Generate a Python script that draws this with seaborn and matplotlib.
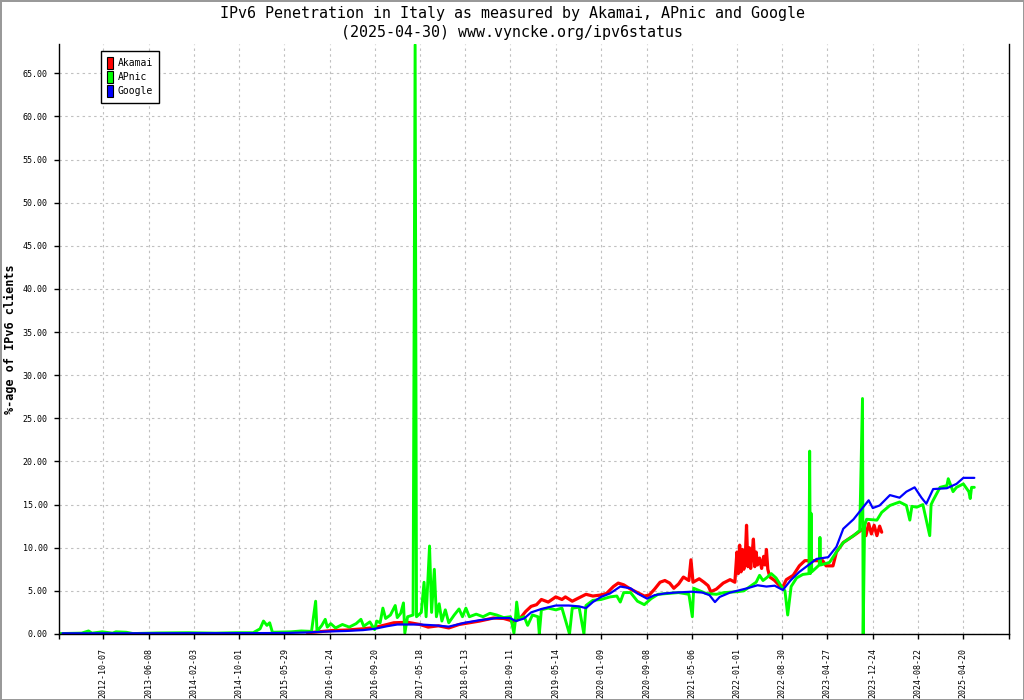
import matplotlib
matplotlib.use("Agg")
import matplotlib.pyplot as plt
import seaborn as sns
import pandas as pd
import numpy as np
from matplotlib.patches import Patch
from matplotlib.ticker import FormatStrFormatter

# ---------------- data (fractional years, % of clients) ----------------
tick_labels = ["2012-10-07", "2013-06-08", "2014-02-03", "2014-10-01", "2015-05-29",
               "2016-01-24", "2016-09-20", "2017-05-18", "2018-01-13", "2018-09-11",
               "2019-05-14", "2020-01-09", "2020-09-08", "2021-05-06", "2022-01-01",
               "2022-08-30", "2023-04-27", "2023-12-24", "2024-08-22", "2025-04-20"]

google_year = [2012.17, 2013.0, 2014.0, 2015.0, 2015.45, 2015.75, 2016.0, 2016.3, 2016.55, 2016.72,
               2016.9, 2017.05, 2017.38, 2017.6, 2017.8, 2018.03, 2018.25, 2018.5, 2018.69, 2018.78,
               2018.9, 2019.0, 2019.15, 2019.36, 2019.55, 2019.7, 2019.8, 2019.9, 2020.02, 2020.15,
               2020.3, 2020.45, 2020.55, 2020.69, 2020.8, 2020.95, 2021.1, 2021.34, 2021.5, 2021.6,
               2021.68, 2021.75, 2021.9, 2022.0, 2022.15, 2022.3, 2022.43, 2022.55, 2022.67, 2022.78,
               2022.91, 2023.16, 2023.33, 2023.45, 2023.55, 2023.70, 2023.84, 2023.92, 2023.98, 2024.08,
               2024.23, 2024.37, 2024.47, 2024.59, 2024.69, 2024.76, 2024.86, 2025.06, 2025.20, 2025.30,
               2025.46]
google_pct = [0.08, 0.08, 0.09, 0.10, 0.12, 0.18, 0.28, 0.35, 0.45, 0.60,
              0.90, 1.10, 1.10, 1.00, 0.85, 1.30, 1.60, 1.85, 1.85, 1.50,
              1.80, 2.50, 2.90, 3.30, 3.30, 3.20, 3.00, 3.70, 4.30, 4.70,
              5.50, 5.30, 4.70, 4.10, 4.50, 4.70, 4.80, 4.90, 4.80, 4.50,
              3.70, 4.30, 4.80, 5.00, 5.30, 5.65, 5.50, 5.60, 5.10, 6.20,
              7.20, 8.70, 8.90, 10.10, 12.20, 13.30, 14.70, 15.50, 14.60, 14.90,
              16.10, 15.80, 16.50, 17.00, 15.80, 15.10, 16.80, 16.90, 17.40, 18.10,
              18.10]

akamai_year = [2015.74, 2015.9, 2016.1, 2016.3, 2016.55, 2016.72, 2016.85, 2017.0, 2017.2, 2017.38,
               2017.5, 2017.65, 2017.8, 2017.95, 2018.1, 2018.25, 2018.45, 2018.6, 2018.69, 2018.75,
               2018.85, 2018.92, 2019.0, 2019.08, 2019.15, 2019.25, 2019.36, 2019.45, 2019.5, 2019.6,
               2019.7, 2019.8, 2019.9, 2020.0, 2020.1, 2020.2, 2020.27, 2020.35, 2020.45, 2020.55,
               2020.65, 2020.72, 2020.8, 2020.88, 2020.95, 2021.02, 2021.08, 2021.15, 2021.22, 2021.3,
               2021.33, 2021.36, 2021.45, 2021.52, 2021.58, 2021.62, 2021.7, 2021.8, 2021.9, 2021.97,
               2022.0, 2022.02, 2022.04, 2022.06, 2022.08, 2022.1, 2022.12, 2022.14, 2022.16, 2022.18,
               2022.2, 2022.22, 2022.24, 2022.26, 2022.28, 2022.3, 2022.33, 2022.36, 2022.39, 2022.41,
               2022.43, 2022.45, 2022.48, 2022.55, 2022.62, 2022.66, 2022.72, 2022.82, 2022.91, 2022.99,
               2023.25, 2023.3, 2023.4, 2023.45, 2023.55, 2023.7, 2023.84, 2023.88, 2023.92, 2023.96,
               2024.0, 2024.04, 2024.08, 2024.11]
akamai_pct = [0.15, 0.25, 0.40, 0.45, 0.60, 0.75, 1.00, 1.30, 1.35, 1.10,
              0.80, 0.95, 0.70, 1.10, 1.30, 1.50, 1.85, 1.80, 1.60, 1.40,
              1.90, 2.60, 3.20, 3.40, 4.00, 3.70, 4.30, 4.00, 4.30, 3.80,
              4.20, 4.60, 4.40, 4.50, 4.70, 5.50, 5.90, 5.70, 5.20, 4.80,
              4.40, 4.50, 5.20, 6.00, 6.20, 5.90, 5.30, 5.80, 6.60, 6.20,
              8.60, 6.00, 6.40, 6.00, 5.60, 4.90, 5.20, 5.90, 6.30, 6.00,
              9.50, 7.00, 10.30, 7.20, 9.80, 7.50, 8.50, 12.60, 7.80, 10.00,
              7.60, 9.20, 11.00, 7.80, 9.50, 8.00, 8.80, 7.60, 9.00, 8.00,
              9.80, 7.50, 6.60, 6.20, 5.60, 5.30, 6.30, 6.80, 7.90, 8.50,
              8.50, 7.90, 7.90, 9.50, 10.60, 11.40, 12.20, 11.40, 12.80, 11.60,
              12.60, 11.40, 12.50, 11.80]

apnic_year = [2012.14, 2012.45, 2012.55, 2012.6, 2012.75, 2012.9, 2012.95, 2013.1, 2013.2, 2013.55,
              2014.0, 2014.4, 2014.7, 2014.95, 2015.05, 2015.1, 2015.15, 2015.19, 2015.23, 2015.5,
              2015.65, 2015.8, 2015.86, 2015.88, 2015.95, 2016.0, 2016.03, 2016.08, 2016.15, 2016.25,
              2016.35, 2016.45, 2016.52, 2016.56, 2016.65, 2016.72, 2016.75, 2016.8, 2016.84, 2016.88,
              2016.95, 2017.02, 2017.05, 2017.1, 2017.14, 2017.16, 2017.2, 2017.28, 2017.31, 2017.33,
              2017.4, 2017.44, 2017.47, 2017.52, 2017.55, 2017.59, 2017.62, 2017.66, 2017.7, 2017.75,
              2017.8, 2017.88, 2017.95, 2018.0, 2018.05, 2018.1, 2018.2, 2018.3, 2018.4, 2018.5,
              2018.6, 2018.7, 2018.75, 2018.77, 2018.79, 2018.82, 2018.9, 2018.95, 2019.02, 2019.1,
              2019.12, 2019.15, 2019.25, 2019.36, 2019.45, 2019.56, 2019.6, 2019.7, 2019.77, 2019.8,
              2019.9, 2020.02, 2020.15, 2020.25, 2020.3, 2020.35, 2020.45, 2020.55, 2020.65, 2020.75,
              2020.85, 2021.0, 2021.15, 2021.3, 2021.35, 2021.37, 2021.46, 2021.55, 2021.7, 2021.81,
              2022.0, 2022.1, 2022.19, 2022.28, 2022.33, 2022.38, 2022.43, 2022.5, 2022.57, 2022.65,
              2022.7, 2022.74, 2022.79, 2022.87, 2022.96, 2023.05, 2023.06, 2023.07, 2023.08, 2023.09,
              2023.2, 2023.21, 2023.22, 2023.35, 2023.45, 2023.55, 2023.7, 2023.79, 2023.83, 2023.84,
              2023.86, 2023.89, 2024.04, 2024.11, 2024.23, 2024.37, 2024.47, 2024.52, 2024.55, 2024.62,
              2024.71, 2024.81, 2024.83, 2024.86, 2024.96, 2025.06, 2025.08, 2025.15, 2025.2, 2025.3,
              2025.38, 2025.4, 2025.42, 2025.46]
apnic_pct = [0.05, 0.10, 0.35, 0.10, 0.25, 0.10, 0.25, 0.20, 0.05, 0.12,
             0.15, 0.10, 0.15, 0.15, 0.60, 1.50, 1.00, 1.30, 0.20, 0.25,
             0.35, 0.30, 3.80, 0.30, 1.00, 1.70, 0.80, 1.20, 0.70, 1.10,
             0.80, 1.20, 1.70, 0.90, 1.40, 0.50, 1.50, 1.30, 3.00, 1.80,
             2.20, 3.30, 1.90, 2.40, 3.60, 0.10, 2.00, 2.20, 68.30, 2.00,
             2.50, 6.00, 2.00, 10.20, 2.50, 7.50, 2.00, 3.50, 1.50, 2.80,
             1.30, 2.20, 2.90, 2.00, 3.00, 2.00, 2.30, 2.00, 2.40, 2.20,
             1.90, 2.00, 0.10, 1.50, 3.70, 1.80, 2.00, 1.00, 2.20, 2.00,
             0.00, 2.80, 3.00, 2.80, 3.00, 0.00, 3.00, 3.10, 0.00, 3.30,
             3.90, 4.00, 4.30, 4.40, 3.70, 4.80, 4.80, 3.80, 3.40, 4.10,
             4.60, 4.70, 4.80, 4.60, 2.00, 5.30, 5.00, 4.70, 4.60, 4.80,
             4.90, 5.00, 5.50, 6.00, 6.80, 6.20, 6.50, 7.00, 6.50, 5.50,
             5.00, 2.20, 5.50, 6.50, 6.90, 7.00, 21.20, 7.00, 14.00, 7.20,
             8.00, 11.20, 8.00, 8.30, 9.50, 10.60, 11.40, 12.00, 27.30, 0.00,
             12.50, 13.30, 13.20, 14.10, 14.90, 15.30, 14.90, 13.20, 14.80, 14.70,
             15.00, 11.40, 15.00, 15.50, 17.00, 17.20, 18.00, 16.50, 17.00, 17.40,
             16.50, 15.70, 17.00, 17.00]

series_names = ["Akamai", "APnic", "Google"]
series_colors = ["#ff0000", "#00ff00", "#0000ff"]


def frac_year(s):
    d = pd.Timestamp(s)
    start = pd.Timestamp(year=d.year, month=1, day=1)
    end = pd.Timestamp(year=d.year + 1, month=1, day=1)
    return d.year + (d - start) / (end - start)


tick_pos = [frac_year(s) for s in tick_labels]

# ---------------- figure ----------------
sns.set_style("white")
plt.rcParams['font.family'] = ['DejaVu Sans Mono', 'DejaVu Sans']
plt.rcParams['text.color'] = 'black'
plt.rcParams['axes.labelcolor'] = 'black'
plt.rcParams['xtick.color'] = 'black'
plt.rcParams['ytick.color'] = 'black'

fig = plt.figure(figsize=(10.24, 7.0), dpi=100)
fig.patch.set_edgecolor("#999999")
fig.patch.set_linewidth(2)
ax = fig.add_axes([0.0573, 0.0943, 0.9283, 0.8429])

frames = [
    pd.DataFrame({"year": akamai_year, "pct": akamai_pct}),
    pd.DataFrame({"year": apnic_year, "pct": apnic_pct}),
    pd.DataFrame({"year": google_year, "pct": google_pct}),
]
widths = [2.3, 2.1, 1.6]
for df, col, lw in zip(frames, series_colors, widths):
    sns.lineplot(data=df, x="year", y="pct", ax=ax, color=col, linewidth=lw,
                 estimator=None, sort=False, legend=False)

xmin, xmax = 2012.115, 2025.969
ax.set_xlim(xmin, xmax)
ax.set_ylim(0, 68.4)

ax.set_xticks(tick_pos)
ax.set_xticklabels(tick_labels, rotation=90, fontsize=6)
ax.set_xticks([xmin, xmax], minor=True)
ax.set_yticks(np.arange(0, 66, 5))
ax.yaxis.set_major_formatter(FormatStrFormatter('%.2f'))

ax.tick_params(axis='both', which='both', direction='out', length=3.8, width=1,
               colors='black', bottom=True, left=True)
ax.tick_params(axis='x', pad=6.5, labelsize=6)
ax.tick_params(axis='y', pad=4, labelsize=6)

ax.grid(True, which='major', color='#c0c0c0', linestyle=(0, (2.2, 3.0)), linewidth=0.8)
ax.set_axisbelow(True)

for side in ["left", "bottom", "right"]:
    ax.spines[side].set_color("black")
    ax.spines[side].set_linewidth(1)
ax.spines["top"].set_visible(False)

ax.set_xlabel("")
ax.set_ylabel("%-age of IPv6 clients", fontsize=8.5, fontweight='bold', color='black')
ax.yaxis.set_label_coords(-0.0439, 0.5)

fig.text(0.5, 0.9807, "IPv6 Penetration in Italy as measured by Akamai, APnic and Google",
         ha='center', va='center', fontsize=10.8, color='black')
fig.text(0.5, 0.954, "(2025-04-30) www.vyncke.org/ipv6status",
         ha='center', va='center', fontsize=10.8, color='black')

handles = [Patch(facecolor=c, edgecolor='black', linewidth=0.8) for c in series_colors]
leg = ax.legend(handles, series_names, loc='upper left', bbox_to_anchor=(0.0445, 0.988),
                borderaxespad=0, fontsize=7, handlelength=0.65, handleheight=1.55,
                handletextpad=0.5, labelspacing=0.2, borderpad=0.6, fancybox=False,
                framealpha=1, edgecolor='black')
leg.get_frame().set_linewidth(1)
for t in leg.get_texts():
    t.set_color('black')

fig.savefig("out.png", dpi=100)
